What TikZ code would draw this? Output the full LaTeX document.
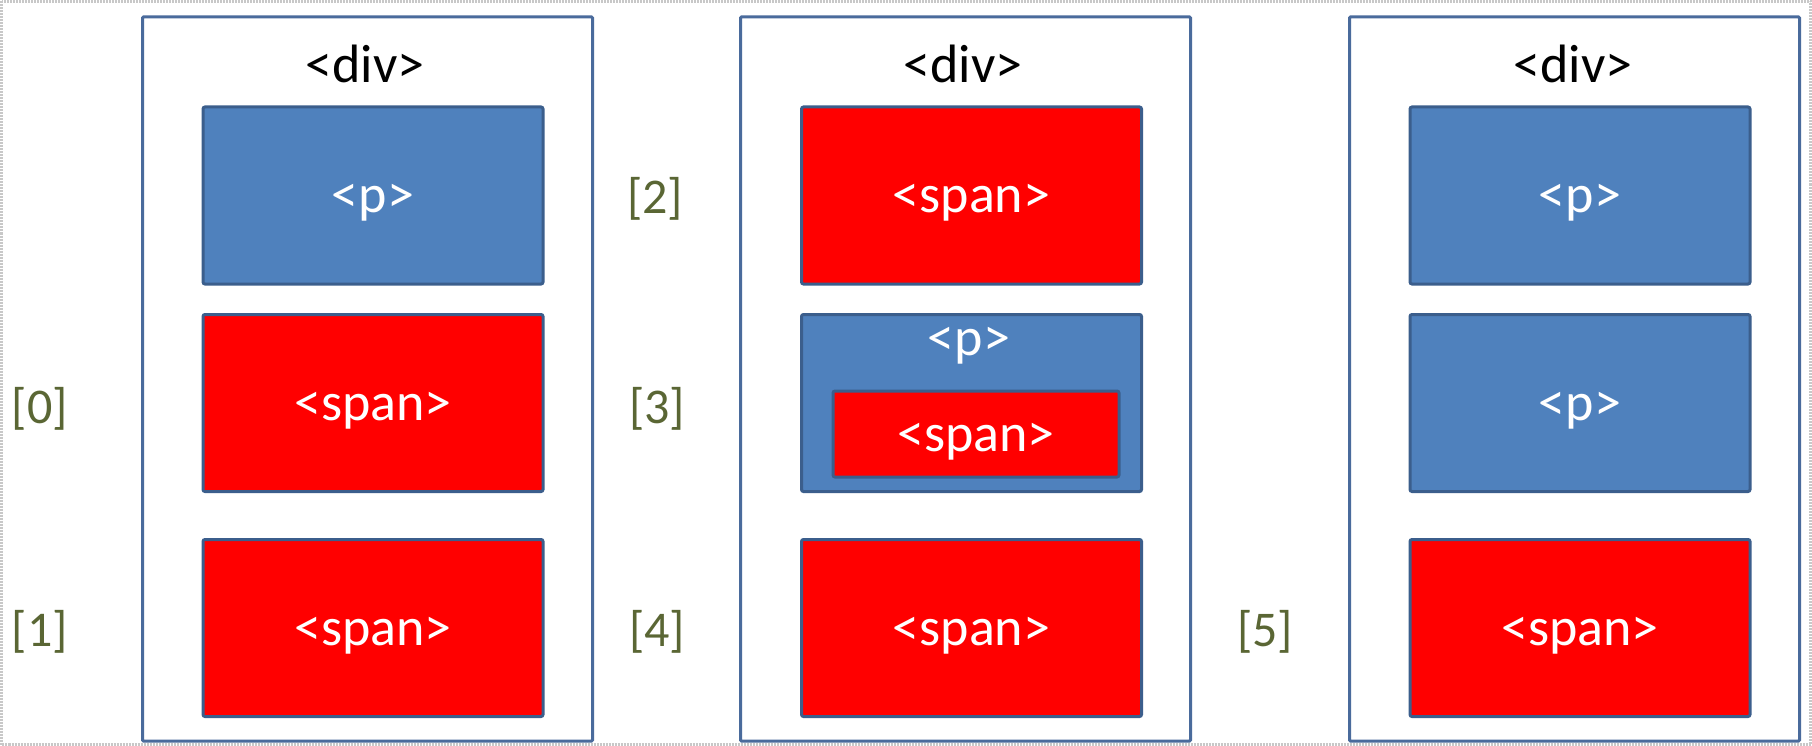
\documentclass[tikz,border=0pt]{standalone}
\usepackage{fontspec}
\setmainfont{Carlito}
\definecolor{divc}{HTML}{4A6B9C}
\definecolor{bord}{HTML}{3B5E8C}
\definecolor{pblue}{HTML}{4F81BD}
\definecolor{sred}{HTML}{FF0000}
\definecolor{lblc}{HTML}{5A6634}
\definecolor{framec}{HTML}{C8C8C8}
\begin{document}
\begin{tikzpicture}[x=1pt,y=-1pt,
  every node/.style={inner sep=0pt},
  boxfont/.style={font=\fontsize{54}{64}\selectfont, text height=34pt, text depth=0pt},
  divbox/.style={draw=divc, line width=3pt, fill=white, minimum width=450pt, minimum height=724pt, rounded corners=1pt},
  pbox/.style={boxfont, draw=bord, fill=pblue, line width=3pt, rounded corners=2pt, text=white, minimum width=340pt, minimum height=177pt},
  spanbox/.style={boxfont, draw=bord, fill=sred, line width=3pt, rounded corners=2pt, text=white, minimum width=340pt, minimum height=177pt},
  lbl/.style={text=lblc, font=\fontsize{50}{60}\selectfont},
  divtxt/.style={text=black, font=\fontsize{54}{64}\selectfont}
]
\fill[white] (0,0) rectangle (1812,746);
\useasboundingbox (0,0) rectangle (1812,746);
\draw[framec, line width=3pt, dash pattern=on 2pt off 1pt] (1.5,1.5) rectangle (1810.5,744.5);

% column 1
\node[divbox] (d1) at (367.5,379) {};
\node[divtxt] (d1t) at (365,64) {<div>};
\node[pbox] (c1a) at (373,195.5) {<p>};
\node[spanbox] (c1b) at (373,403) {<span>};
\node[spanbox] (c1c) at (373,628) {<span>};
\node[lbl] (l0) at (40,409) {[0]};
\node[lbl] (l1) at (40,632) {[1]};

% column 2
\node[divbox] (d2) at (965.5,379) {};
\node[divtxt] (d2t) at (963,64) {<div>};
\node[spanbox] (c2a) at (971.5,195.5) {<span>};
\node[pbox] (c2b) at (971.5,403) {};
\node[boxfont, text=white] (c2bt) at (969,338) {<p>};
\node[spanbox, minimum width=286pt, minimum height=86pt] (c2bs) at (976,434) {<span>};
\node[spanbox] (c2c) at (971.5,628) {<span>};
\node[lbl] (l2) at (655,199) {[2]};
\node[lbl] (l3) at (657,409) {[3]};
\node[lbl] (l4) at (657,632) {[4]};

% column 3
\node[divbox] (d3) at (1574.5,379) {};
\node[divtxt] (d3t) at (1573,64) {<div>};
\node[pbox] (c3a) at (1580,195.5) {<p>};
\node[pbox] (c3b) at (1580,403) {<p>};
\node[spanbox] (c3c) at (1580,628) {<span>};
\node[lbl] (l5) at (1265,632) {[5]};
\end{tikzpicture}
\end{document}
